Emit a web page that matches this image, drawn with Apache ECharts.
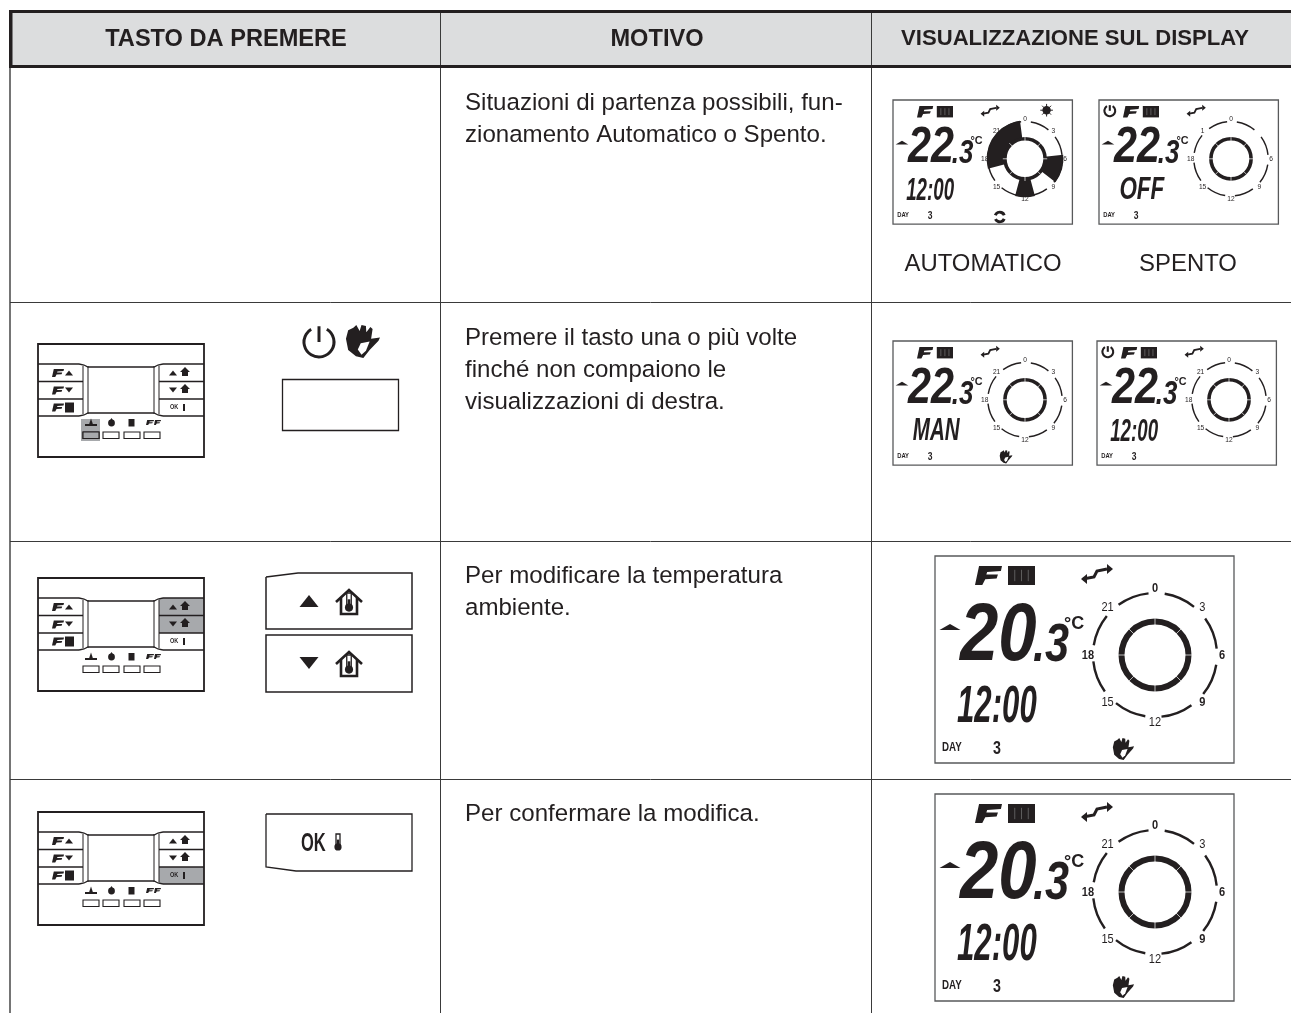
<!DOCTYPE html>
<html><head><meta charset="utf-8"><title>Tabella</title>
<style>html,body{margin:0;padding:0;background:#fff}#main{width:1291px;height:1013px}</style>
<script src="https://cdn.jsdelivr.net/npm/echarts@6/dist/echarts.min.js"></script>
</head><body><div id="main"></div>
<script>
const headers = ['TASTO DA PREMERE', 'MOTIVO', 'VISUALIZZAZIONE SUL DISPLAY'];
const motivoRow1 = ['Situazioni di partenza possibili, fun-', 'zionamento Automatico o Spento.'];
const motivoRow2 = ['Premere il tasto una o più volte', 'finché non compaiono le', 'visualizzazioni di destra.'];
const motivoRow3 = ['Per modificare la temperatura', 'ambiente.'];
const motivoRow4 = ['Per confermare la modifica.'];
const stateLabels = ['AUTOMATICO', 'SPENTO'];
const hourLabels = ['0', '3', '6', '9', '12', '15', '18', '21'];
const offHourLabels = ['0', '', '6', '9', '12', '15', '18', '1'];
const autoProgramHours = [[17, 23.5], [5.6, 8.5], [11, 13]];
const smallTemp = ['22', '.3'];
const bigTemp = ['20', '.3'];

const INK = '#231f20', GREY = '#a7a9ac';
const FONT = '"Liberation Sans", Arial, sans-serif';
const els = [];
const add = e => { e.silent = true; els.push(e); };
const rect = (x, y, w, h, fill, stroke, lw) => add({ type: 'rect', shape: { x, y, width: w, height: h }, style: { fill: fill || 'none', stroke: stroke || 'none', lineWidth: lw || 0 } });
const line = (x1, y1, x2, y2, lw, c) => add({ type: 'line', shape: { x1, y1, x2, y2 }, style: { stroke: c || INK, lineWidth: lw || 1 } });
const poly = (pts, fill) => add({ type: 'polygon', shape: { points: pts }, style: { fill: fill || INK } });
const pline = (pts, lw, c) => add({ type: 'polyline', shape: { points: pts }, style: { stroke: c || INK, lineWidth: lw || 1, fill: 'none' } });
const circ = (cx, cy, r, fill, stroke, lw) => add({ type: 'circle', shape: { cx, cy, r }, style: { fill: fill || 'none', stroke: stroke || 'none', lineWidth: lw || 0 } });
const arc = (cx, cy, r, a0, a1, lw, c) => add({ type: 'arc', shape: { cx, cy, r, startAngle: a0, endAngle: a1, clockwise: true }, style: { stroke: c || INK, lineWidth: lw, fill: 'none' } });
const txt = (text, x, y, o) => { o = o || {}; add({ type: 'text', x, y, scaleX: o.sx || 1, scaleY: o.sy || 1, style: { text, x: 0, y: 0, fill: o.c || INK, fontSize: o.size || 24.1, fontFamily: o.font || FONT, fontWeight: o.w || 'normal', fontStyle: o.it ? 'italic' : 'normal', align: o.a || 'left', verticalAlign: 'middle' } }); };
const unit = (pts, x, y, w, h) => pts.map(p => [x + p[0] * w, y + p[1] * h]);

const TAP = [[.15, 0], [1, 0], [.96, .26], [.45, .32], [.42, .45], [.85, .45], [.8, .66], [.38, .7], [.27, 1], [0, 1]];
const HAND = [[.08, .42], [.14, .16], [.28, .08], [.36, 0], [.45, .18], [.5, 0], [.62, .03], [.63, .22], [.74, .06], [.8, .12], [.76, .42], [1, .38], [.96, .48], [.72, .76], [.55, 1], [.35, .95], [.14, .76]];
const PALM = [[.48, .55], [.72, .5], [.62, .78], [.5, .9], [.4, .74]];
const tap = (x, y, w, h) => poly(unit(TAP, x, y, w, h));
const radiator = (x, y, w, h, ribs) => { rect(x, y, w, h, INK); for (let i = 1; i <= ribs; i++) line(x + w * i / (ribs + 1), y + h * .2, x + w * i / (ribs + 1), y + h * .8, .7, '#777'); };
const hand = (x, y, w, h) => { poly(unit(HAND, x, y, w, h)); poly(unit(PALM, x, y, w, h), '#fff'); };
const triUp = (cx, cy, w, h) => poly([[cx - w / 2, cy + h / 2], [cx + w / 2, cy + h / 2], [cx, cy - h / 2]]);
const triDown = (cx, cy, w, h) => poly([[cx - w / 2, cy - h / 2], [cx + w / 2, cy - h / 2], [cx, cy + h / 2]]);
const smallHouse = (cx, cy, s) => poly([[cx, cy - s], [cx + s, cy], [cx + s * .6, cy], [cx + s * .6, cy + s * .8], [cx - s * .6, cy + s * .8], [cx - s * .6, cy], [cx - s, cy]]);
const thermo = (cx, cy, s) => { rect(cx - s * .25, cy - s, s * .5, s * 1.5, '#fff', INK, 1.3); circ(cx, cy + s * .62, s * .45, INK); line(cx, cy - s * .3, cx, cy + s * .5, s * .3); };
const bigHouse = (cx, cy) => {
  pline([[cx - 13, cy + 1], [cx, cy - 11], [cx + 13, cy + 1]], 2.6);
  pline([[cx - 8, cy - 3], [cx - 8, cy + 13], [cx + 8, cy + 13], [cx + 8, cy - 3]], 2.6);
  thermo(cx, cy + 1, 9);
};
const power = (cx, cy, r, lw) => {
  arc(cx, cy, r, -Math.PI / 2 + .55, Math.PI * 1.5 - .55, lw);
  line(cx, cy - r * 1.05, cx, cy, lw);
};

// ---- thermostat panel (button layout)
function panel(ox, oy, hi) {
  const X = x => ox + x, Y = y => oy + y;
  if (hi.includes('power')) rect(X(43), Y(75), 19, 22, GREY);
  if (hi.includes('up')) rect(X(121), Y(20), 45, 17.5, GREY);
  if (hi.includes('down')) rect(X(121), Y(37.5), 45, 17.5, GREY);
  if (hi.includes('ok')) rect(X(121), Y(55), 45, 17, GREY);
  rect(X(0), Y(0), 166, 113, 'none', INK, 1.8);
  [20, 37.5, 55, 72].forEach(y => { line(X(0), Y(y), X(y === 20 || y === 72 ? 41 : 45), Y(y), 1.4); line(X(y === 20 || y === 72 ? 125 : 121), Y(y), X(166), Y(y), 1.4); });
  pline([[X(41), Y(20)], [X(46), Y(21)], [X(50), Y(23)], [X(116), Y(23)], [X(120), Y(21)], [X(125), Y(20)]], 1.3);
  pline([[X(41), Y(72)], [X(46), Y(71)], [X(50), Y(69)], [X(116), Y(69)], [X(120), Y(71)], [X(125), Y(72)]], 1.3);
  [45, 50, 116, 121].forEach(x => line(X(x), Y(22), X(x), Y(70), 1));
  tap(X(14), Y(25), 12, 8); triUp(X(31), Y(29), 8, 5);
  tap(X(14), Y(42.5), 12, 8); triDown(X(31), Y(46), 8, 5);
  tap(X(14), Y(59.5), 12, 8); radiator(X(27), Y(58.5), 9, 10, 0);
  triUp(X(135), Y(29), 8, 5); smallHouse(X(147), Y(28), 5);
  triDown(X(135), Y(46), 8, 5); smallHouse(X(147), Y(45), 5);
  txt('OK', X(132), Y(63.5), { size: 6.5, w: 'bold', sx: .85 }); line(X(146), Y(60), X(146), Y(67), 2);
  // mode icons + keys
  triUp(X(53), Y(77.5), 4, 6); line(X(47), Y(81), X(59), Y(81), 2);
  circ(X(73.5), Y(79), 3.4, INK); triUp(X(73.5), Y(75.5), 4, 3);
  radiator(X(90.5), Y(75), 6, 7.5, 0);
  tap(X(108), Y(76), 8, 5); tap(X(116), Y(76), 7, 5);
  [45, 65, 86, 106].forEach(x => rect(X(x), Y(88), 16, 6.5, '#fff', INK, 1.1));
  if (hi.includes('power')) rect(X(45), Y(88), 16, 6.5, GREY, INK, 1.1);
}

// ---- LCD display; coordinates below are for the full-size display (k = 1)
function lcd(ox, oy, k, o) {
  const X = x => ox + x * k, Y = y => oy + y * k, S = v => v * k;
  const cy = o.cy || 98, cx = 220;
  rect(ox, oy, 299 * k, 207 * k, '#fff', '#58595b', 1.3);
  if (o.power) power(X(18), Y(18), S(9), Math.max(1.5, S(3.5)));
  tap(X(40), Y(10), S(27), S(19));
  radiator(X(73), Y(10), S(27), S(19), 3);
  pline([[X(148), Y(23)], [X(159), Y(21)], [X(162), Y(15)], [X(172), Y(13)]], S(3));
  poly([[X(172), Y(8)], [X(172), Y(18)], [X(178), Y(13)]]);
  poly([[X(152), Y(18)], [X(152), Y(28)], [X(146), Y(23)]]);
  triUp(X(15), Y(71), S(21), S(6));
  const t = o.temp;
  txt(t[0], X(25), Y(81), { size: S(82), w: 'bold', it: true, sx: .84 });
  txt(t[1], X(98), Y(90), { size: S(54), w: 'bold', it: true, sx: .8 });
  txt('°C', X(129), Y(68), { size: S(18), w: 'bold' });
  const mid = { '12:00': [22, .6, 152], 'OFF': [34, .72, 150], 'MAN': [33, .66, 150] }[o.mid];
  txt(o.mid, X(mid[0]), Y(mid[2]), { size: S(52), it: true, w: 'bold', sx: mid[1] });
  txt('DAY', X(7), Y(191), { size: S(13), w: 'bold', sx: .75 });
  txt('3', X(58), Y(193), { size: S(19), w: 'bold', sx: .75 });
  // programme sectors
  (o.sectors || []).forEach(s => add({ type: 'sector', shape: { cx: X(cx), cy: Y(cy), r: S(64), r0: S(33), startAngle: s[0] / 24 * 2 * Math.PI - Math.PI / 2, endAngle: s[1] / 24 * 2 * Math.PI - Math.PI / 2 }, style: { fill: INK } }));
  const D = Math.PI / 180;
  for (let i = 0; i < 8; i++) {
    const a = i * 45 - 90;
    arc(X(cx), Y(cy), S(62), (a + 9) * D, (a + 39) * D, Math.max(1.1, S(2.4)));
    if (o.labels[i]) txt(o.labels[i], X(cx) + Math.cos(a * D) * S(67), Y(cy) + Math.sin(a * D) * S(67), { size: S(13), a: 'center', sx: .85, w: k === 1 && ['0', '6', '9', '18'].includes(o.labels[i]) ? 'bold' : 'normal' });
  }
  circ(X(cx), Y(cy), S(33.5), 'none', INK, S(6));
  for (let i = 0; i < 8; i++) {
    const a = i * 45 * D;
    line(X(cx) + Math.cos(a) * S(30), Y(cy) + Math.sin(a) * S(30), X(cx) + Math.cos(a) * S(37), Y(cy) + Math.sin(a) * S(37), .7, '#fff');
  }
  if (o.sun) { circ(X(256), Y(17), S(7), INK); for (let i = 0; i < 8; i++) line(X(256), Y(17), X(256) + Math.cos(i * 45 * D) * S(10.5), Y(17) + Math.sin(i * 45 * D) * S(10.5), 1); }
  if (o.cycle) { arc(X(178), Y(195), S(8), 0.4, 2.7, S(5)); arc(X(178), Y(195), S(8), 3.5, 5.9, S(5)); }
  if (o.hand) hand(X(176), Y(182), S(23), S(22));
}

// ---- table frame
rect(9, 11, 1282, 56, '#dcddde');
line(440.5, 11, 440.5, 1013, 1, '#3a3a3a');
line(871.5, 11, 871.5, 1013, 1, '#3a3a3a');
line(10, 67, 10, 1013, 1.4, '#3a3a3a');
[302, 541, 779].forEach(y => line(10, y + .5, 1291, y + .5, 1, '#3a3a3a'));
rect(9, 10, 1282, 3, INK);
rect(9, 10, 3.5, 58, INK);
rect(9, 65, 1282, 3, INK);
txt(headers[0], 226, 39, { w: 'bold', a: 'center', size: 23.6 });
txt(headers[1], 657, 39, { w: 'bold', a: 'center', size: 23.6 });
txt(headers[2], 1075, 39, { w: 'bold', a: 'center', size: 22.1 });
[[motivoRow1, 103], [motivoRow2, 338], [motivoRow3, 576], [motivoRow4, 814]].forEach(r => r[0].forEach((s, i) => txt(s, 465, r[1] + i * 32)));
txt(stateLabels[0], 983, 264, { a: 'center', size: 23.9 });
txt(stateLabels[1], 1188, 264, { a: 'center', size: 23.9 });

// ---- keys column
panel(38, 344, ['power']);
power(319, 342, 15, 3);
hand(343, 325, 37, 33);
rect(282.5, 379.5, 116, 51, '#fff', INK, 1.3);
panel(38, 578, ['up', 'down']);
pline([[266, 577], [298, 573], [412, 573], [412, 629], [266, 629], [266, 577]], 1.5);
triUp(309, 601, 19, 12); bigHouse(349, 601);
rect(266, 635, 146, 57, '#fff', INK, 1.5);
triDown(309, 663, 19, 12); bigHouse(349, 663);
panel(38, 812, ['ok']);
pline([[266, 814], [412, 814], [412, 871], [296, 871], [266, 867], [266, 814]], 1.3);
txt('OK', 301, 844, { size: 25, w: 'bold', sx: .66 });
thermo(338, 842, 8);

// ---- display column
lcd(893, 100, .6, { temp: smallTemp, mid: '12:00', labels: hourLabels, sectors: autoProgramHours, sun: true, cycle: true });
lcd(1099, 100, .6, { temp: smallTemp, mid: 'OFF', labels: offHourLabels, power: true });
lcd(893, 341, .6, { temp: smallTemp, mid: 'MAN', labels: hourLabels, hand: true });
lcd(1097, 341, .6, { temp: smallTemp, mid: '12:00', labels: hourLabels, power: true });
lcd(935, 556, 1, { temp: bigTemp, mid: '12:00', labels: hourLabels, hand: true, cy: 99 });
lcd(935, 794, 1, { temp: bigTemp, mid: '12:00', labels: hourLabels, hand: true, cy: 98 });

echarts.init(document.getElementById('main'), null, { renderer: 'canvas' }).setOption({ backgroundColor: '#fff', animation: false, graphic: { elements: els } });
</script></body></html>
